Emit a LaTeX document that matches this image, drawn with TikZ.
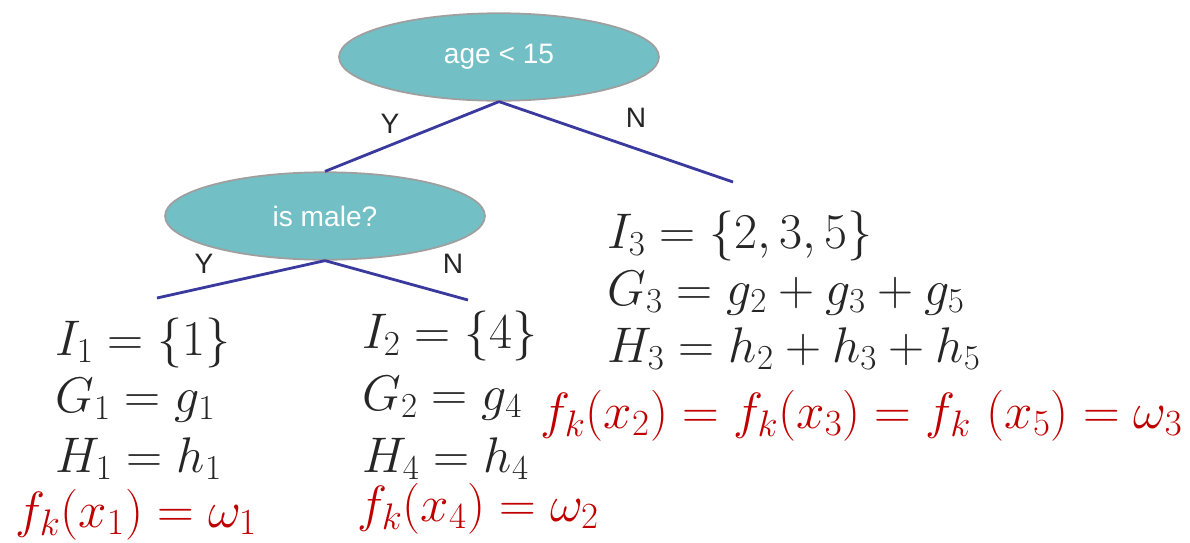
\RequirePackage{fix-cm}
\documentclass[tikz,border=0pt]{standalone}
\usepackage{fontspec}
\newfontfamily\labelfont{Liberation Sans}
\usetikzlibrary{shapes.geometric}
\definecolor{nodeteal}{RGB}{114,191,197}
\definecolor{branchblue}{RGB}{58,58,158}
\definecolor{leafred}{RGB}{192,0,0}
\DeclareMathSizes{29}{29}{21}{17}

\begin{document}
\begin{tikzpicture}
[
	x=0.02cm, y=-0.02cm,
	split/.style={ellipse,draw=gray!75,line width=1pt,fill=nodeteal,minimum width=6.4cm,minimum height=1.75cm,text=white,font=\labelfont\fontsize{16}{18}\selectfont},
	branch/.style={draw=branchblue,line width=1.6pt},
	answer/.style={text=black!85,font=\labelfont\fontsize{16}{18}\selectfont},
	leafline/.style={anchor=base west,inner sep=0pt,text=black!85,font=\fontsize{28.5}{32}\selectfont},
	leafvalue/.style={anchor=base west,inner sep=0pt,text=leafred,font=\fontsize{29}{34}\selectfont}
]
	\useasboundingbox (0,0) rectangle (1190,542);

	% splits
	\node[split] (age) at (499,57) {age < 15};
	\node[split] (male) at (325,216) {is male?};

	% branches
	\coordinate (ageN) at (733,182);
	\coordinate (maleY) at (157,298);
	\coordinate (maleN) at (468,300);
	\draw[branch] (age.south) -- (male.north);
	\draw[branch] (age.south) -- (ageN);
	\draw[branch] (male.south) -- (maleY);
	\draw[branch] (male.south) -- (maleN);

	\node[answer] (ageYlbl) at (390,124) {Y};
	\node[answer] (ageNlbl) at (636,118) {N};
	\node[answer] (maleYlbl) at (204,264) {Y};
	\node[answer] (maleNlbl) at (453,264) {N};

	% leaf 1
	\node[leafline] (I1) at (55,355) {$I_1 = \{1\}$};
	\node[leafline] (G1) at (55,412) {$G_1 = g_1$};
	\node[leafline] (H1) at (55,472) {$H_1 = h_1$};
	\node[leafvalue] (w1) at (15,527) {$f_k(x_1) = \omega_1$};

	% leaf 2
	\node[leafline] (I2) at (362,348) {$I_2 = \{4\}$};
	\node[leafline] (G2) at (362,410) {$G_2 = g_4$};
	\node[leafline] (H4) at (362,472) {$H_4 = h_4$};
	\node[leafvalue] (w2) at (357,521) {$f_k(x_4) = \omega_2$};

	% leaf 3
	\node[leafline] (I3) at (607,248) {$I_3 = \{2,3,5\}$};
	\node[leafline] (G3) at (607,305) {$G_3 = g_2 + g_3 + g_5$};
	\node[leafline] (H3) at (607,362) {$H_3 = h_2 + h_3 + h_5$};
	\node[leafvalue] (w3) at (540,428) {$f_k(x_2) = f_k(x_3) = f_k\ (x_5) = \omega_3$};

\end{tikzpicture}
\end{document}
